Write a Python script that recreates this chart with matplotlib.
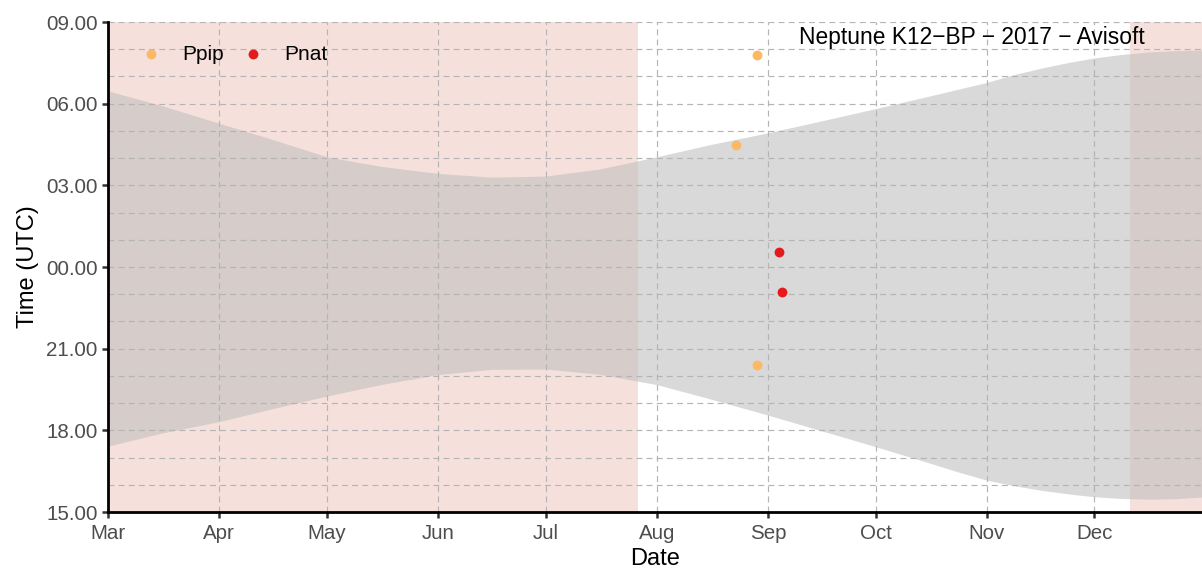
import matplotlib
matplotlib.use('Agg')
import matplotlib.pyplot as plt
import matplotlib.dates as mdates
from matplotlib.ticker import FixedLocator, FuncFormatter
import pandas as pd

plt.rcParams['font.family'] = ['Liberation Sans', 'DejaVu Sans']

# ---------------- data ----------------
night_dates = ['2017-03-01', '2017-03-16', '2017-04-01', '2017-04-16', '2017-05-01',
               '2017-05-16', '2017-06-01', '2017-06-16', '2017-07-01', '2017-07-16',
               '2017-08-01', '2017-08-16', '2017-09-01', '2017-09-16', '2017-10-01',
               '2017-10-16', '2017-10-24', '2017-11-01', '2017-11-08', '2017-11-16',
               '2017-11-24', '2017-12-01', '2017-12-08', '2017-12-16', '2017-12-24',
               '2017-12-31']
# hours (UTC); values > 24 are the next morning
sunset_h = [17.42, 17.90, 18.32, 18.80, 19.26, 19.68, 20.05, 20.24, 20.25, 20.06,
            19.68, 19.15, 18.56, 17.98, 17.40, 16.80, 16.47, 16.17, 15.98, 15.80,
            15.66, 15.56, 15.50, 15.47, 15.49, 15.55]
sunrise_h = [30.47, 29.93, 29.28, 28.68, 28.05, 27.70, 27.44, 27.30, 27.34, 27.60,
             28.05, 28.50, 28.93, 29.37, 29.82, 30.28, 30.53, 30.78, 31.05, 31.30,
             31.52, 31.68, 31.80, 31.90, 31.95, 31.97]

shade_start = ['2017-03-01', '2017-12-11']
shade_end = ['2017-07-26 18:00', '2017-12-31']

ppip_dates = ['2017-08-23', '2017-08-29', '2017-08-29']
ppip_h = [28.50, 31.80, 20.40]
pnat_dates = ['2017-09-04', '2017-09-05']
pnat_h = [24.56, 23.07]

species = ['Ppip', 'Pnat']
species_colors = ['#FDB863', '#E41A1C']

title = 'Neptune K12\u2212BP \u2212 2017 \u2212 Avisoft'
x_start, x_end = '2017-03-01', '2017-12-31'
y_major = [15, 18, 21, 24, 27, 30, 33]
y_minor = list(range(15, 34))

# ---------------- figure ----------------
fig = plt.figure(figsize=(12.02, 5.74), dpi=100)
ax = fig.add_axes([108 / 1202, 62 / 574, 1094 / 1202, 490 / 574])

for s, e in zip(shade_start, shade_end):
    ax.axvspan(pd.Timestamp(s), pd.Timestamp(e), color='#F6E0DC', lw=0, zorder=0)

nd = pd.to_datetime(night_dates)
ax.fill_between(nd, sunset_h, sunrise_h, color='#C1C1C1', alpha=0.6, lw=0, zorder=1)

ax.scatter(pd.to_datetime(ppip_dates), ppip_h, s=50, color=species_colors[0],
           lw=0, zorder=4, label=species[0])
ax.scatter(pd.to_datetime(pnat_dates), pnat_h, s=50, color=species_colors[1],
           lw=0, zorder=4, label=species[1])

ax.set_xlim(pd.Timestamp(x_start), pd.Timestamp(x_end))
ax.set_ylim(15, 33)

ax.yaxis.set_major_locator(FixedLocator(y_major))
ax.yaxis.set_minor_locator(FixedLocator(y_minor))
ax.yaxis.set_major_formatter(FuncFormatter(lambda v, p: '%02d.00' % (int(round(v)) % 24)))
ax.xaxis.set_major_locator(mdates.MonthLocator())
ax.xaxis.set_major_formatter(mdates.DateFormatter('%b'))

grid_kw = dict(color='#B4B4B4', linestyle=(0, (5, 3.6)), linewidth=0.85)
ax.grid(True, which='major', axis='both', **grid_kw)
ax.grid(True, which='minor', axis='y', **grid_kw)
ax.set_axisbelow(False)
for gl in ax.get_xgridlines() + ax.get_ygridlines():
    gl.set_zorder(2)
ax.tick_params(axis='y', which='minor', length=0)

for side in ['top', 'right']:
    ax.spines[side].set_visible(False)
for side in ['left', 'bottom']:
    ax.spines[side].set_linewidth(2.0)
    ax.spines[side].set_color('black')
    ax.spines[side].set_zorder(5)

ax.tick_params(axis='both', which='major', labelsize=14.8, labelcolor='#4D4D4D',
               color='#333333', length=4.5, width=1.8, pad=3)
ax.tick_params(axis='x', which='major', pad=4)

ax.set_xlabel('Date', fontsize=17, color='black', labelpad=4)
ax.set_ylabel('Time (UTC)', fontsize=17, color='black', labelpad=5)

ax.text(0.948, 0.968, title, transform=ax.transAxes, ha='right', va='center',
        fontsize=16.4, color='black', zorder=6)

leg = ax.legend(loc='upper left', bbox_to_anchor=(0.0298, 0.954), ncol=2,
                frameon=False, fontsize=15, handlelength=1.0, handletextpad=1.0,
                columnspacing=0.9, borderpad=0, borderaxespad=0, scatterpoints=1)
leg.set_zorder(6)

fig.savefig('out.png', dpi=100)
